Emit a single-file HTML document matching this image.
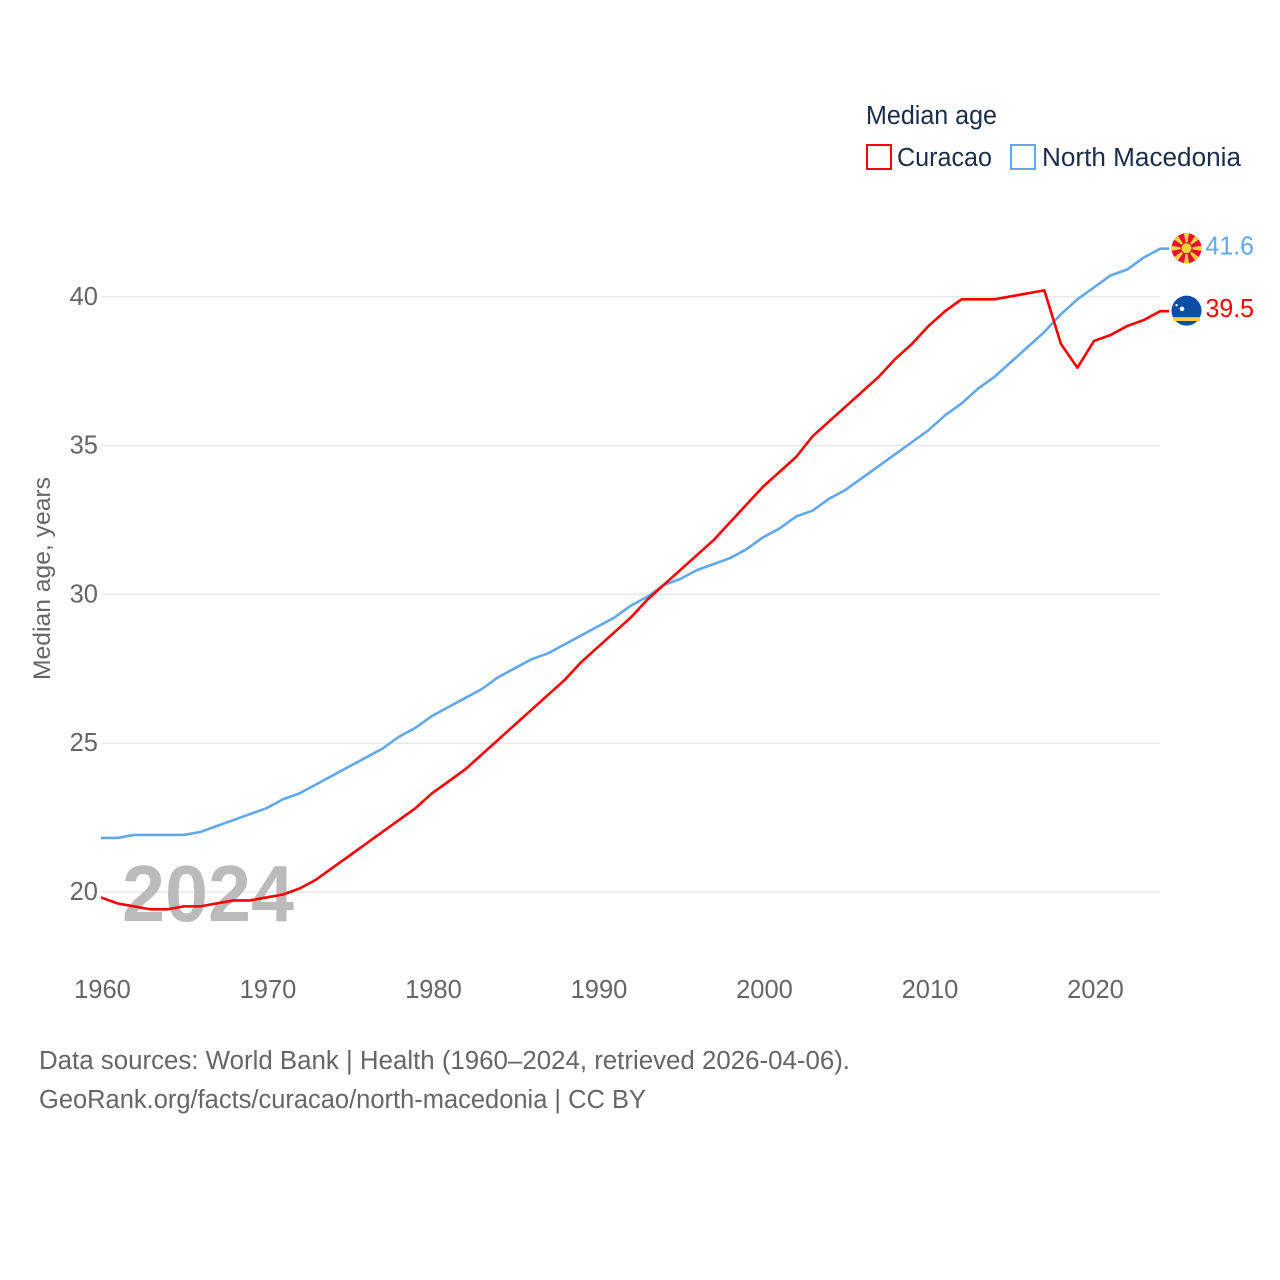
<!DOCTYPE html>
<html lang="en">
<head>
<meta charset="utf-8">
<title>Median age: Curacao and North Macedonia</title>
<style>
html,body{margin:0;padding:0;background:#fff;width:1280px;height:1280px;overflow:hidden}
svg{display:block}
text{font-family:"Liberation Sans",sans-serif}
</style>
</head>
<body>
<svg id="chart" xmlns="http://www.w3.org/2000/svg" width="1280" height="1280" viewBox="0 0 1280 1280">
  <rect x="0" y="0" width="1280" height="1280" fill="#fff"/>
  <g id="grid"></g>
  <text x="122" y="921" font-size="80" font-weight="700" fill="#bbbbbb" textLength="172" lengthAdjust="spacingAndGlyphs">2024</text>
  <g id="yticks"></g>
  <g id="xticks"></g>
  <text transform="translate(50,680) rotate(-90)" font-size="24.5" fill="#666666" textLength="203" lengthAdjust="spacingAndGlyphs">Median age, years</text>
  <g id="series"></g>
  <g id="ends"></g>

  <g>
    <text x="866" y="124" font-size="25.5" fill="#1b2d4b" textLength="131" lengthAdjust="spacingAndGlyphs">Median age</text>
    <rect x="867" y="145" width="24" height="24" fill="#fff" stroke="#ff0000" stroke-width="2"/>
    <text x="897" y="166" font-size="25.5" fill="#1b2d4b" textLength="95" lengthAdjust="spacingAndGlyphs">Curacao</text>
    <rect x="1011" y="145" width="24" height="24" fill="#fff" stroke="#62a8ee" stroke-width="2"/>
    <text x="1042" y="166" font-size="25.5" fill="#1b2d4b" textLength="199" lengthAdjust="spacingAndGlyphs">North Macedonia</text>
  </g>

  <g>
    <text x="39" y="1069" font-size="25.5" fill="#666666" textLength="811" lengthAdjust="spacingAndGlyphs">Data sources: World Bank | Health (1960–2024, retrieved 2026-04-06).</text>
    <text x="39" y="1108" font-size="25.5" fill="#666666" textLength="607" lengthAdjust="spacingAndGlyphs">GeoRank.org/facts/curacao/north-macedonia | CC BY</text>
  </g>
</svg>
<script>
const years = [1960,1961,1962,1963,1964,1965,1966,1967,1968,1969,1970,1971,1972,1973,1974,1975,1976,1977,1978,1979,1980,1981,1982,1983,1984,1985,1986,1987,1988,1989,1990,1991,1992,1993,1994,1995,1996,1997,1998,1999,2000,2001,2002,2003,2004,2005,2006,2007,2008,2009,2010,2011,2012,2013,2014,2015,2016,2017,2018,2019,2020,2021,2022,2023,2024];
const curacaoValues = [19.8,19.6,19.5,19.4,19.4,19.5,19.5,19.6,19.7,19.7,19.8,19.9,20.1,20.4,20.8,21.2,21.6,22.0,22.4,22.8,23.3,23.7,24.1,24.6,25.1,25.6,26.1,26.6,27.1,27.7,28.2,28.7,29.2,29.8,30.3,30.8,31.3,31.8,32.4,33.0,33.6,34.1,34.6,35.3,35.8,36.3,36.8,37.3,37.9,38.4,39.0,39.5,39.9,39.9,39.9,40.0,40.1,40.2,38.4,37.6,38.5,38.7,39.0,39.2,39.5];
const macedoniaValues = [21.8,21.8,21.9,21.9,21.9,21.9,22.0,22.2,22.4,22.6,22.8,23.1,23.3,23.6,23.9,24.2,24.5,24.8,25.2,25.5,25.9,26.2,26.5,26.8,27.2,27.5,27.8,28.0,28.3,28.6,28.9,29.2,29.6,29.9,30.3,30.5,30.8,31.0,31.2,31.5,31.9,32.2,32.6,32.8,33.2,33.5,33.9,34.3,34.7,35.1,35.5,36.0,36.4,36.9,37.3,37.8,38.3,38.8,39.4,39.9,40.3,40.7,40.9,41.3,41.6];
const yTickValues = [20,25,30,35,40];
const xTickValues = [1960,1970,1980,1990,2000,2010,2020];

const NS = 'http://www.w3.org/2000/svg';
function xScale(year){ return 101 + (year - 1960) * 16.55; }
function yScale(v){ return 891.5 - (v - 20) * 29.76; }
function make(tag, attrs, parent){
  const el = document.createElementNS(NS, tag);
  for (const k in attrs) el.setAttribute(k, attrs[k]);
  parent.appendChild(el);
  return el;
}

const gridG = document.getElementById('grid');
const yG = document.getElementById('yticks');
const xG = document.getElementById('xticks');
const seriesG = document.getElementById('series');
const endsG = document.getElementById('ends');

yTickValues.forEach(function(v){
  const line = make('line', {x1:101, x2:xScale(2024), y1:yScale(v) + 0.5, y2:yScale(v) + 0.5, stroke:'#e9e9e9', 'stroke-width':1.5}, gridG);
  
  
  const t = make('text', {x:98, y:yScale(v) + 8.5, 'text-anchor':'end', 'font-size':25.5, fill:'#666666'}, yG);
  
  
  t.textContent = v;
});

xTickValues.forEach(function(y){
  const t = make('text', {x:xScale(y) + 1.5, y:998, 'text-anchor':'middle', 'font-size':25.5, fill:'#666666'}, xG);
  
  
  t.textContent = y;
});

function drawSeries(name, values, color){
  let pts = values.map(function(v, i){ return xScale(years[i]).toFixed(2) + ',' + yScale(v).toFixed(2); });
  const last = values[values.length - 1];
  pts.push('1169,' + yScale(last).toFixed(2));
  const p = make('polyline', {points:pts.join(' '), fill:'none', stroke:color, 'stroke-width':2.6, 'stroke-linejoin':'round'}, seriesG);
  
  
}
drawSeries('north-macedonia', macedoniaValues, '#62a8ee');
drawSeries('curacao', curacaoValues, '#ff0000');

function drawLabel(name, value, color){
  const t = make('text', {x:1205.5, y:yScale(value) + 6, 'font-size':25.5, fill:color, textLength:48.5, lengthAdjust:'spacingAndGlyphs'}, endsG);
  
  
  t.textContent = value.toFixed(1);
}

function drawMacedoniaFlag(value){
  const cy = yScale(value) - 0.4, cx = 1186.5;
  const g = make('g', {}, endsG);
  
  
  make('circle', {cx:cx, cy:cy, r:15, fill:'#e8112d'}, g);
  [0,45,90,135,180,225,270,315].forEach(function(a){
    const r = a * Math.PI / 180, s = 0.17;
    const pts = [
      [cx, cy],
      [cx + 15 * Math.cos(r - s), cy + 15 * Math.sin(r - s)],
      [cx + 15 * Math.cos(r + s), cy + 15 * Math.sin(r + s)]
    ].map(function(q){ return q[0].toFixed(2) + ',' + q[1].toFixed(2); }).join(' ');
    make('polygon', {points:pts, fill:'#f9d040'}, g);
  });
  make('circle', {cx:cx, cy:cy, r:5.5, fill:'#f9d040', stroke:'#e8112d', 'stroke-width':1}, g);
}

function drawCuracaoFlag(value){
  const cy = yScale(value) - 0.5, cx = 1186.5;
  const g = make('g', {}, endsG);
  
  
  make('circle', {cx:cx, cy:cy, r:15, fill:'#0a4ea8'}, g);
  make('rect', {x:cx - 13.5, y:cy + 6.5, width:27, height:3.8, fill:'#f9d040'}, g);
  make('circle', {cx:cx - 4.5, cy:cy - 1.8, r:2.3, fill:'#fff'}, g);
  make('circle', {cx:cx - 10, cy:cy - 5.5, r:1.2, fill:'#fff'}, g);
}

drawMacedoniaFlag(macedoniaValues[macedoniaValues.length - 1]);
drawCuracaoFlag(curacaoValues[curacaoValues.length - 1]);
drawLabel('north-macedonia', macedoniaValues[macedoniaValues.length - 1], '#62a8ee');
drawLabel('curacao', curacaoValues[curacaoValues.length - 1], '#ff0000');
</script>
</body>
</html>
